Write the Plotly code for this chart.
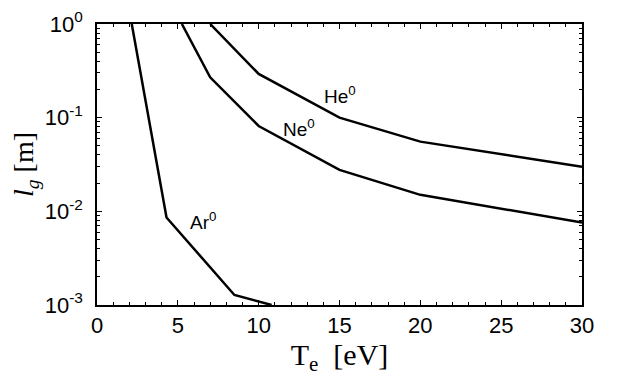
import math
import plotly.graph_objects as go

# values (T_e in eV, l_g in m)
te_ar = [2.15, 4.3, 8.5, 10.8]
lg_ar = [1.0, 0.0086, 0.00128, 0.001]

te_ne = [5.25, 7, 10, 15, 20, 30]
lg_ne = [1.0, 0.27, 0.0815, 0.0277, 0.015, 0.0076]

te_he = [7, 10, 15, 20, 30]
lg_he = [1.0, 0.293, 0.1, 0.0555, 0.030]

labels = ["He<sup>0</sup>", "Ne<sup>0</sup>", "Ar<sup>0</sup>"]
label_x = [15.0, 12.5, 6.55]
label_y = [0.175, 0.078, 0.0078]

y_tickvals = [1e-3, 1e-2, 1e-1, 1]
y_ticktext = ["10<sup>-3</sup>", "10<sup>-2</sup>", "10<sup>-1</sup>", "10<sup>0</sup>"]

fig = go.Figure()
for xs, ys in [(te_ar, lg_ar), (te_ne, lg_ne), (te_he, lg_he)]:
    fig.add_trace(go.Scatter(x=xs, y=ys, mode="lines",
                             line=dict(color="black", width=2.5),
                             showlegend=False))

# log axis: annotation y goes in as log10
for t, x, y in zip(labels, label_x, label_y):
    fig.add_annotation(x=x, y=math.log10(y), text=t, showarrow=False,
                       font=dict(family="Liberation Sans", size=19, color="black"))

# page body has an 8px margin, so the plot box is shifted by that
fig.update_layout(
    width=620, height=389,
    margin=dict(l=89, r=46, t=16, b=92),
    plot_bgcolor="white", paper_bgcolor="white",
    font=dict(family="Liberation Sans", size=22, color="black"),
)
fig.update_xaxes(
    range=[0, 30], tickmode="linear", tick0=0, dtick=5,
    ticks="inside", ticklen=5, tickwidth=1, tickcolor="black",
    minor=dict(ticks="inside", ticklen=3, dtick=1, tickcolor="black", tickwidth=1),
    showline=True, linecolor="black", linewidth=1.5, mirror="allticks",
    showgrid=False, zeroline=False, automargin=False,
    title=dict(text="T<sub>e</sub>  [eV]", standoff=5,
               font=dict(family="Liberation Serif", size=30)),
)
fig.update_yaxes(
    type="log", range=[-3, 0], tickmode="array",
    tickvals=y_tickvals, ticktext=y_ticktext,
    ticks="inside", ticklen=5, tickwidth=1, tickcolor="black",
    ticklabelstandoff=8,
    minor=dict(ticks="inside", ticklen=3, dtick="D1", tickcolor="black", tickwidth=1),
    showline=True, linecolor="black", linewidth=1.5, mirror="allticks",
    showgrid=False, zeroline=False, automargin=False,
    title=dict(text="<i>l</i><sub><i>g</i></sub> [m]", standoff=4,
               font=dict(family="Liberation Serif", size=28)),
)

fig.write_html("out.html")
